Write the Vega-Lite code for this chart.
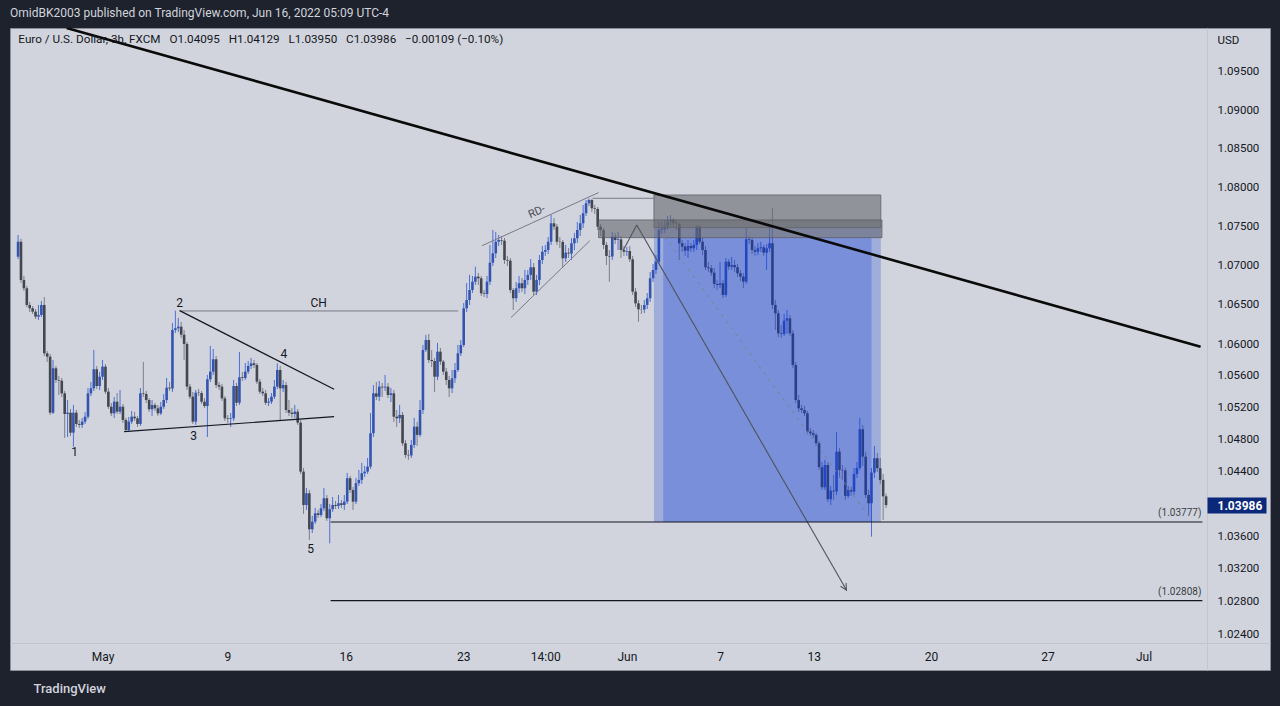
{
"$schema":"https://vega.github.io/schema/vega-lite/v6.json",
"width":1260,"height":642,
"autosize":{"type":"none"},
"padding":{"left":10,"top":28,"right":10,"bottom":36},
"background":"#1e222d",
"config":{"view":{"fill":"#d1d4dc","stroke":"#8b8e96","strokeWidth":1},"font":"Roboto"},
"title":{"text":"OmidBK2003 published on TradingView.com, Jun 16, 2022 05:09 UTC-4","subtitle":"\u200b\u2002\u2009Euro / U.S. Dollar, 3h, FXCM \u2002O1.04095 \u2002H1.04129 \u2002L1.03950 \u2002C1.03986 \u2002−0.00109 (−0.10%)","anchor":"start","frame":"group","offset":-19,"font":"Roboto","fontSize":12,"fontWeight":"normal","color":"#d1d4dc","subtitleFont":"Roboto","subtitleFontSize":11.7,"subtitleColor":"#131722","subtitlePadding":14},
"datasets":{
"bars":[
{"i":0,"o":1.07112,"h":1.07389,"l":1.07082,"c":1.07303},
{"i":1,"o":1.07303,"h":1.07338,"l":1.06777,"c":1.06815},
{"i":2,"o":1.06815,"h":1.06866,"l":1.06675,"c":1.06709},
{"i":3,"o":1.06709,"h":1.06739,"l":1.06471,"c":1.06497},
{"i":4,"o":1.06497,"h":1.06535,"l":1.06408,"c":1.06455},
{"i":5,"o":1.06455,"h":1.06484,"l":1.06383,"c":1.06412},
{"i":6,"o":1.06412,"h":1.06446,"l":1.06319,"c":1.06349},
{"i":7,"o":1.06349,"h":1.06497,"l":1.06307,"c":1.0637},
{"i":8,"o":1.0637,"h":1.06547,"l":1.06345,"c":1.06497},
{"i":9,"o":1.06497,"h":1.06598,"l":1.05851,"c":1.05885},
{"i":10,"o":1.05885,"h":1.05914,"l":1.05776,"c":1.05843},
{"i":11,"o":1.05843,"h":1.05877,"l":1.05109,"c":1.05138},
{"i":12,"o":1.05138,"h":1.05801,"l":1.05122,"c":1.05696},
{"i":13,"o":1.05696,"h":1.05725,"l":1.05511,"c":1.05549},
{"i":14,"o":1.05549,"h":1.056,"l":1.0536,"c":1.0554},
{"i":15,"o":1.0554,"h":1.05574,"l":1.05335,"c":1.05381},
{"i":16,"o":1.05381,"h":1.05411,"l":1.04822,"c":1.05122},
{"i":17,"o":1.05122,"h":1.05297,"l":1.04834,"c":1.05138},
{"i":18,"o":1.05138,"h":1.05185,"l":1.04847,"c":1.04888},
{"i":19,"o":1.04888,"h":1.05235,"l":1.04713,"c":1.05138},
{"i":20,"o":1.05138,"h":1.05172,"l":1.0496,"c":1.04997},
{"i":21,"o":1.04997,"h":1.05047,"l":1.04947,"c":1.04985},
{"i":22,"o":1.04985,"h":1.05072,"l":1.04947,"c":1.05026},
{"i":23,"o":1.05026,"h":1.05147,"l":1.04997,"c":1.05088},
{"i":24,"o":1.05088,"h":1.05448,"l":1.0506,"c":1.05381},
{"i":25,"o":1.05381,"h":1.05524,"l":1.05347,"c":1.05444},
{"i":26,"o":1.05444,"h":1.05927,"l":1.05411,"c":1.05684},
{"i":27,"o":1.05684,"h":1.05725,"l":1.05436,"c":1.05473},
{"i":28,"o":1.05473,"h":1.0565,"l":1.05423,"c":1.0559},
{"i":29,"o":1.0559,"h":1.05801,"l":1.05549,"c":1.05717},
{"i":30,"o":1.05717,"h":1.0575,"l":1.05373,"c":1.05402},
{"i":31,"o":1.05402,"h":1.05448,"l":1.05185,"c":1.05213},
{"i":32,"o":1.05213,"h":1.0526,"l":1.05097,"c":1.0513},
{"i":33,"o":1.0513,"h":1.05335,"l":1.05072,"c":1.05276},
{"i":34,"o":1.05276,"h":1.05385,"l":1.05122,"c":1.05151},
{"i":35,"o":1.05151,"h":1.05423,"l":1.05122,"c":1.05213},
{"i":36,"o":1.05213,"h":1.05247,"l":1.0501,"c":1.05047},
{"i":37,"o":1.05047,"h":1.05072,"l":1.04897,"c":1.04922},
{"i":38,"o":1.04922,"h":1.05085,"l":1.04897,"c":1.05026},
{"i":39,"o":1.05026,"h":1.0516,"l":1.04997,"c":1.05088},
{"i":40,"o":1.05088,"h":1.05147,"l":1.05035,"c":1.05068},
{"i":41,"o":1.05068,"h":1.05097,"l":1.0496,"c":1.04997},
{"i":42,"o":1.04997,"h":1.05448,"l":1.04972,"c":1.05381},
{"i":43,"o":1.05381,"h":1.05776,"l":1.05335,"c":1.05373},
{"i":44,"o":1.05373,"h":1.05411,"l":1.0526,"c":1.05297},
{"i":45,"o":1.05297,"h":1.05322,"l":1.05147,"c":1.05181},
{"i":46,"o":1.05181,"h":1.05297,"l":1.05097,"c":1.05235},
{"i":47,"o":1.05235,"h":1.0526,"l":1.0516,"c":1.05193},
{"i":48,"o":1.05193,"h":1.05235,"l":1.05097,"c":1.0513},
{"i":49,"o":1.0513,"h":1.05272,"l":1.05109,"c":1.05213},
{"i":50,"o":1.05213,"h":1.05373,"l":1.05185,"c":1.05297},
{"i":51,"o":1.05297,"h":1.05574,"l":1.0526,"c":1.05452},
{"i":52,"o":1.05452,"h":1.05524,"l":1.05411,"c":1.05442},
{"i":53,"o":1.05442,"h":1.06269,"l":1.05398,"c":1.0618},
{"i":54,"o":1.0618,"h":1.06425,"l":1.06142,"c":1.06202},
{"i":55,"o":1.06202,"h":1.06332,"l":1.06155,"c":1.06222},
{"i":56,"o":1.06222,"h":1.06281,"l":1.06079,"c":1.0612},
{"i":57,"o":1.0612,"h":1.0618,"l":1.05801,"c":1.06003},
{"i":58,"o":1.06003,"h":1.06028,"l":1.05423,"c":1.05465},
{"i":59,"o":1.05465,"h":1.05499,"l":1.0531,"c":1.05339},
{"i":60,"o":1.05339,"h":1.05398,"l":1.04997,"c":1.05026},
{"i":61,"o":1.05026,"h":1.05423,"l":1.04985,"c":1.05389},
{"i":62,"o":1.05389,"h":1.05436,"l":1.05347,"c":1.05385},
{"i":63,"o":1.05385,"h":1.05411,"l":1.05247,"c":1.05276},
{"i":64,"o":1.05276,"h":1.05322,"l":1.05197,"c":1.05222},
{"i":65,"o":1.05222,"h":1.05612,"l":1.04834,"c":1.05558},
{"i":66,"o":1.05558,"h":1.05978,"l":1.05524,"c":1.05654},
{"i":67,"o":1.05654,"h":1.0594,"l":1.05612,"c":1.0581},
{"i":68,"o":1.0581,"h":1.05851,"l":1.05448,"c":1.05486},
{"i":69,"o":1.05486,"h":1.05524,"l":1.05423,"c":1.05465},
{"i":70,"o":1.05465,"h":1.05499,"l":1.05285,"c":1.05318},
{"i":71,"o":1.05318,"h":1.05347,"l":1.05035,"c":1.05068},
{"i":72,"o":1.05068,"h":1.05109,"l":1.0501,"c":1.0506},
{"i":73,"o":1.0506,"h":1.05135,"l":1.0496,"c":1.05068},
{"i":74,"o":1.05068,"h":1.05549,"l":1.05035,"c":1.05473},
{"i":75,"o":1.05473,"h":1.05511,"l":1.05222,"c":1.05263},
{"i":76,"o":1.05263,"h":1.05902,"l":1.05235,"c":1.05583},
{"i":77,"o":1.05583,"h":1.0565,"l":1.05536,"c":1.05574},
{"i":78,"o":1.05574,"h":1.05763,"l":1.05549,"c":1.05654},
{"i":79,"o":1.05654,"h":1.05788,"l":1.05625,"c":1.05725},
{"i":80,"o":1.05725,"h":1.05826,"l":1.05688,"c":1.05759},
{"i":81,"o":1.05759,"h":1.05801,"l":1.057,"c":1.05738},
{"i":82,"o":1.05738,"h":1.05763,"l":1.05499,"c":1.05528},
{"i":83,"o":1.05528,"h":1.05562,"l":1.05373,"c":1.05402},
{"i":84,"o":1.05402,"h":1.05448,"l":1.05347,"c":1.05381},
{"i":85,"o":1.05381,"h":1.05423,"l":1.05235,"c":1.05263},
{"i":86,"o":1.05263,"h":1.05322,"l":1.05222,"c":1.05276},
{"i":87,"o":1.05276,"h":1.05385,"l":1.05247,"c":1.05339},
{"i":88,"o":1.05339,"h":1.05549,"l":1.0531,"c":1.05465},
{"i":89,"o":1.05465,"h":1.05759,"l":1.05436,"c":1.05675},
{"i":90,"o":1.05675,"h":1.05725,"l":1.05035,"c":1.05444},
{"i":91,"o":1.05444,"h":1.05549,"l":1.05398,"c":1.05486},
{"i":92,"o":1.05486,"h":1.05524,"l":1.05135,"c":1.05172},
{"i":93,"o":1.05172,"h":1.05297,"l":1.05097,"c":1.05138},
{"i":94,"o":1.05138,"h":1.05197,"l":1.05072,"c":1.05122},
{"i":95,"o":1.05122,"h":1.05235,"l":1.05072,"c":1.05151},
{"i":96,"o":1.05151,"h":1.05185,"l":1.04985,"c":1.05013},
{"i":97,"o":1.05013,"h":1.05047,"l":1.04373,"c":1.04402},
{"i":98,"o":1.04402,"h":1.04448,"l":1.03877,"c":1.03988},
{"i":99,"o":1.03988,"h":1.04199,"l":1.03926,"c":1.04133},
{"i":100,"o":1.04133,"h":1.04174,"l":1.03555,"c":1.03687},
{"i":101,"o":1.03687,"h":1.03852,"l":1.03641,"c":1.03781},
{"i":102,"o":1.03781,"h":1.03951,"l":1.03753,"c":1.03885},
{"i":103,"o":1.03885,"h":1.03926,"l":1.03827,"c":1.03864},
{"i":104,"o":1.03864,"h":1.04,"l":1.0384,"c":1.03947},
{"i":105,"o":1.03947,"h":1.04199,"l":1.03914,"c":1.04071},
{"i":106,"o":1.04071,"h":1.04112,"l":1.0379,"c":1.03823},
{"i":107,"o":1.03823,"h":1.04,"l":1.03514,"c":1.03935},
{"i":108,"o":1.03935,"h":1.04087,"l":1.03901,"c":1.03988},
{"i":109,"o":1.03988,"h":1.04038,"l":1.03939,"c":1.03976},
{"i":110,"o":1.03976,"h":1.04112,"l":1.03939,"c":1.04009},
{"i":111,"o":1.04009,"h":1.0405,"l":1.03951,"c":1.03988},
{"i":112,"o":1.03988,"h":1.04112,"l":1.03926,"c":1.04029},
{"i":113,"o":1.04029,"h":1.04386,"l":1.04,"c":1.0432},
{"i":114,"o":1.0432,"h":1.04349,"l":1.04137,"c":1.04174},
{"i":115,"o":1.04174,"h":1.04212,"l":1.03926,"c":1.04029},
{"i":116,"o":1.04029,"h":1.04324,"l":1.04,"c":1.04258},
{"i":117,"o":1.04258,"h":1.04423,"l":1.04224,"c":1.04299},
{"i":118,"o":1.04299,"h":1.0451,"l":1.04249,"c":1.04382},
{"i":119,"o":1.04382,"h":1.04473,"l":1.04336,"c":1.04402},
{"i":120,"o":1.04402,"h":1.04572,"l":1.04373,"c":1.04464},
{"i":121,"o":1.04464,"h":1.05135,"l":1.04436,"c":1.04881},
{"i":122,"o":1.04881,"h":1.05486,"l":1.04834,"c":1.05381},
{"i":123,"o":1.05381,"h":1.05524,"l":1.05297,"c":1.05339},
{"i":124,"o":1.05339,"h":1.05536,"l":1.05285,"c":1.05465},
{"i":125,"o":1.05465,"h":1.05511,"l":1.05335,"c":1.05455},
{"i":126,"o":1.05455,"h":1.05612,"l":1.05411,"c":1.05465},
{"i":127,"o":1.05465,"h":1.05511,"l":1.05322,"c":1.0536},
{"i":128,"o":1.0536,"h":1.05448,"l":1.05272,"c":1.05381},
{"i":129,"o":1.05381,"h":1.05423,"l":1.05022,"c":1.05088},
{"i":130,"o":1.05088,"h":1.05172,"l":1.0496,"c":1.05068},
{"i":131,"o":1.05068,"h":1.05235,"l":1.0501,"c":1.0511},
{"i":132,"o":1.0511,"h":1.05147,"l":1.04722,"c":1.04756},
{"i":133,"o":1.04756,"h":1.04797,"l":1.04572,"c":1.0461},
{"i":134,"o":1.0461,"h":1.04672,"l":1.04548,"c":1.04604},
{"i":135,"o":1.04604,"h":1.04797,"l":1.04572,"c":1.04735},
{"i":136,"o":1.04735,"h":1.05072,"l":1.04697,"c":1.04963},
{"i":137,"o":1.04963,"h":1.05022,"l":1.04722,"c":1.0486},
{"i":138,"o":1.0486,"h":1.05297,"l":1.04834,"c":1.05172},
{"i":139,"o":1.05172,"h":1.05991,"l":1.05122,"c":1.05927},
{"i":140,"o":1.05927,"h":1.06117,"l":1.05902,"c":1.06053},
{"i":141,"o":1.06053,"h":1.06129,"l":1.05763,"c":1.05801},
{"i":142,"o":1.05801,"h":1.05927,"l":1.05713,"c":1.05788},
{"i":143,"o":1.05788,"h":1.05826,"l":1.05398,"c":1.0559},
{"i":144,"o":1.0559,"h":1.06016,"l":1.05549,"c":1.05906},
{"i":145,"o":1.05906,"h":1.05953,"l":1.05738,"c":1.0578},
{"i":146,"o":1.0578,"h":1.05801,"l":1.05612,"c":1.05654},
{"i":147,"o":1.05654,"h":1.057,"l":1.05486,"c":1.05549},
{"i":148,"o":1.05549,"h":1.056,"l":1.05335,"c":1.05444},
{"i":149,"o":1.05444,"h":1.05675,"l":1.05385,"c":1.0557},
{"i":150,"o":1.0557,"h":1.05763,"l":1.05511,"c":1.05675},
{"i":151,"o":1.05675,"h":1.05991,"l":1.0565,"c":1.05885},
{"i":152,"o":1.05885,"h":1.06053,"l":1.05851,"c":1.0599},
{"i":153,"o":1.0599,"h":1.06522,"l":1.05965,"c":1.06455},
{"i":154,"o":1.06455,"h":1.06777,"l":1.06408,"c":1.0656},
{"i":155,"o":1.0656,"h":1.0688,"l":1.06497,"c":1.06687},
{"i":156,"o":1.06687,"h":1.06866,"l":1.06649,"c":1.06793},
{"i":157,"o":1.06793,"h":1.06984,"l":1.06751,"c":1.06857},
{"i":158,"o":1.06857,"h":1.06904,"l":1.06751,"c":1.06836},
{"i":159,"o":1.06836,"h":1.06866,"l":1.06611,"c":1.06645},
{"i":160,"o":1.06645,"h":1.06687,"l":1.06598,"c":1.06636},
{"i":161,"o":1.06636,"h":1.06866,"l":1.06585,"c":1.06793},
{"i":162,"o":1.06793,"h":1.07262,"l":1.06751,"c":1.07035},
{"i":163,"o":1.07035,"h":1.07453,"l":1.06993,"c":1.07155},
{"i":164,"o":1.07155,"h":1.07428,"l":1.07095,"c":1.07303},
{"i":165,"o":1.07303,"h":1.07389,"l":1.07248,"c":1.07325},
{"i":166,"o":1.07325,"h":1.07376,"l":1.07261,"c":1.07316},
{"i":167,"o":1.07316,"h":1.0735,"l":1.07019,"c":1.0707},
{"i":168,"o":1.0707,"h":1.07121,"l":1.06993,"c":1.07061},
{"i":169,"o":1.07061,"h":1.07095,"l":1.06649,"c":1.06687},
{"i":170,"o":1.06687,"h":1.06713,"l":1.06433,"c":1.06582},
{"i":171,"o":1.06582,"h":1.06789,"l":1.06535,"c":1.06709},
{"i":172,"o":1.06709,"h":1.06866,"l":1.06649,"c":1.06773},
{"i":173,"o":1.06773,"h":1.0684,"l":1.06662,"c":1.06709},
{"i":174,"o":1.06709,"h":1.06942,"l":1.06636,"c":1.06815},
{"i":175,"o":1.06815,"h":1.06942,"l":1.06751,"c":1.06879},
{"i":176,"o":1.06879,"h":1.07082,"l":1.06815,"c":1.06977},
{"i":177,"o":1.06977,"h":1.07031,"l":1.06624,"c":1.06666},
{"i":178,"o":1.06666,"h":1.06879,"l":1.06624,"c":1.06815},
{"i":179,"o":1.06815,"h":1.07133,"l":1.06751,"c":1.0707},
{"i":180,"o":1.0707,"h":1.07248,"l":1.07019,"c":1.07175},
{"i":181,"o":1.07175,"h":1.07262,"l":1.07121,"c":1.07197},
{"i":182,"o":1.07197,"h":1.07363,"l":1.07146,"c":1.07303},
{"i":183,"o":1.07303,"h":1.07646,"l":1.07262,"c":1.07539},
{"i":184,"o":1.07539,"h":1.07607,"l":1.07453,"c":1.07496},
{"i":185,"o":1.07496,"h":1.0753,"l":1.07262,"c":1.07303},
{"i":186,"o":1.07303,"h":1.07363,"l":1.07223,"c":1.073},
{"i":187,"o":1.073,"h":1.07325,"l":1.06968,"c":1.07091},
{"i":188,"o":1.07091,"h":1.07262,"l":1.07044,"c":1.07163},
{"i":189,"o":1.07163,"h":1.07223,"l":1.07095,"c":1.07152},
{"i":190,"o":1.07152,"h":1.0735,"l":1.0707,"c":1.07283},
{"i":191,"o":1.07283,"h":1.07415,"l":1.07197,"c":1.07347},
{"i":192,"o":1.07347,"h":1.07556,"l":1.07287,"c":1.07453},
{"i":193,"o":1.07453,"h":1.07646,"l":1.07376,"c":1.07539},
{"i":194,"o":1.07539,"h":1.07774,"l":1.07479,"c":1.07668},
{"i":195,"o":1.07668,"h":1.07838,"l":1.07633,"c":1.07796},
{"i":196,"o":1.07796,"h":1.07857,"l":1.07761,"c":1.07838},
{"i":197,"o":1.07838,"h":1.07851,"l":1.07684,"c":1.07732},
{"i":198,"o":1.07732,"h":1.07774,"l":1.07658,"c":1.07723},
{"i":199,"o":1.07723,"h":1.07748,"l":1.07453,"c":1.07496},
{"i":200,"o":1.07496,"h":1.0753,"l":1.07376,"c":1.07453},
{"i":201,"o":1.07453,"h":1.07479,"l":1.0721,"c":1.07262},
{"i":202,"o":1.07262,"h":1.073,"l":1.07006,"c":1.07121},
{"i":203,"o":1.07121,"h":1.07197,"l":1.06793,"c":1.07114},
{"i":204,"o":1.07114,"h":1.07428,"l":1.0707,"c":1.07368},
{"i":205,"o":1.07368,"h":1.07415,"l":1.07274,"c":1.07325},
{"i":206,"o":1.07325,"h":1.07428,"l":1.07197,"c":1.07334},
{"i":207,"o":1.07334,"h":1.07376,"l":1.07095,"c":1.07197},
{"i":208,"o":1.07197,"h":1.07248,"l":1.07121,"c":1.07175},
{"i":209,"o":1.07175,"h":1.07236,"l":1.07121,"c":1.07184},
{"i":210,"o":1.07184,"h":1.07248,"l":1.07044,"c":1.07079},
{"i":211,"o":1.07079,"h":1.07121,"l":1.06624,"c":1.06666},
{"i":212,"o":1.06666,"h":1.06713,"l":1.06471,"c":1.06518},
{"i":213,"o":1.06518,"h":1.0656,"l":1.06285,"c":1.06442},
{"i":214,"o":1.06442,"h":1.06497,"l":1.06383,"c":1.0644},
{"i":215,"o":1.0644,"h":1.0656,"l":1.06395,"c":1.06497},
{"i":216,"o":1.06497,"h":1.06649,"l":1.06446,"c":1.06582},
{"i":217,"o":1.06582,"h":1.06917,"l":1.06535,"c":1.06836},
{"i":218,"o":1.06836,"h":1.07019,"l":1.06789,"c":1.06942},
{"i":219,"o":1.06942,"h":1.07133,"l":1.06891,"c":1.07048},
{"i":220,"o":1.07048,"h":1.07556,"l":1.07019,"c":1.07453},
{"i":221,"o":1.07453,"h":1.07556,"l":1.07402,"c":1.07466},
{"i":222,"o":1.07466,"h":1.07582,"l":1.07415,"c":1.07496},
{"i":223,"o":1.07496,"h":1.07633,"l":1.07453,"c":1.0756},
{"i":224,"o":1.0756,"h":1.07646,"l":1.07505,"c":1.07582},
{"i":225,"o":1.07582,"h":1.07607,"l":1.07492,"c":1.07539},
{"i":226,"o":1.07539,"h":1.07582,"l":1.07453,"c":1.0753},
{"i":227,"o":1.0753,"h":1.07556,"l":1.0707,"c":1.07283},
{"i":228,"o":1.07283,"h":1.07325,"l":1.07172,"c":1.0724},
{"i":229,"o":1.0724,"h":1.07287,"l":1.07121,"c":1.07188},
{"i":230,"o":1.07188,"h":1.07325,"l":1.07095,"c":1.07249},
{"i":231,"o":1.07249,"h":1.07287,"l":1.07172,"c":1.07219},
{"i":232,"o":1.07219,"h":1.07325,"l":1.07172,"c":1.07262},
{"i":233,"o":1.07262,"h":1.07518,"l":1.07197,"c":1.07496},
{"i":234,"o":1.07496,"h":1.07518,"l":1.07274,"c":1.07303},
{"i":235,"o":1.07303,"h":1.0735,"l":1.07133,"c":1.07197},
{"i":236,"o":1.07197,"h":1.07248,"l":1.06942,"c":1.06977},
{"i":237,"o":1.06977,"h":1.07044,"l":1.06917,"c":1.06964},
{"i":238,"o":1.06964,"h":1.07006,"l":1.06866,"c":1.06908},
{"i":239,"o":1.06908,"h":1.06968,"l":1.06713,"c":1.06764},
{"i":240,"o":1.06764,"h":1.06815,"l":1.06687,"c":1.06751},
{"i":241,"o":1.06751,"h":1.07044,"l":1.06713,"c":1.06773},
{"i":242,"o":1.06773,"h":1.06815,"l":1.06585,"c":1.06624},
{"i":243,"o":1.06624,"h":1.07095,"l":1.06598,"c":1.07048},
{"i":244,"o":1.07048,"h":1.07082,"l":1.06942,"c":1.06984},
{"i":245,"o":1.06984,"h":1.07108,"l":1.06942,"c":1.07006},
{"i":246,"o":1.07006,"h":1.0707,"l":1.06917,"c":1.06977},
{"i":247,"o":1.06977,"h":1.07019,"l":1.06853,"c":1.069},
{"i":248,"o":1.069,"h":1.06942,"l":1.06802,"c":1.06857},
{"i":249,"o":1.06857,"h":1.06904,"l":1.06713,"c":1.06793},
{"i":250,"o":1.06793,"h":1.07479,"l":1.06764,"c":1.07334},
{"i":251,"o":1.07334,"h":1.07376,"l":1.07274,"c":1.07325},
{"i":252,"o":1.07325,"h":1.0735,"l":1.07146,"c":1.07197},
{"i":253,"o":1.07197,"h":1.07248,"l":1.07121,"c":1.07175},
{"i":254,"o":1.07175,"h":1.07287,"l":1.07133,"c":1.07219},
{"i":255,"o":1.07219,"h":1.073,"l":1.07172,"c":1.07232},
{"i":256,"o":1.07232,"h":1.07262,"l":1.07121,"c":1.07163},
{"i":257,"o":1.07163,"h":1.07274,"l":1.06942,"c":1.07219},
{"i":258,"o":1.07219,"h":1.07518,"l":1.07172,"c":1.07283},
{"i":259,"o":1.07283,"h":1.07732,"l":1.06446,"c":1.06497},
{"i":260,"o":1.06497,"h":1.0656,"l":1.0618,"c":1.06392},
{"i":261,"o":1.06392,"h":1.06433,"l":1.06091,"c":1.06138},
{"i":262,"o":1.06138,"h":1.06243,"l":1.06079,"c":1.0613},
{"i":263,"o":1.0613,"h":1.06383,"l":1.06104,"c":1.06298},
{"i":264,"o":1.06298,"h":1.06433,"l":1.0613,"c":1.06328},
{"i":265,"o":1.06328,"h":1.0637,"l":1.06104,"c":1.06138},
{"i":266,"o":1.06138,"h":1.0618,"l":1.057,"c":1.05738},
{"i":267,"o":1.05738,"h":1.05776,"l":1.0526,"c":1.05297},
{"i":268,"o":1.05297,"h":1.0536,"l":1.05147,"c":1.05193},
{"i":269,"o":1.05193,"h":1.05235,"l":1.05135,"c":1.05172},
{"i":270,"o":1.05172,"h":1.05222,"l":1.05097,"c":1.0513},
{"i":271,"o":1.0513,"h":1.0516,"l":1.04872,"c":1.04901},
{"i":272,"o":1.04901,"h":1.04947,"l":1.04847,"c":1.04881},
{"i":273,"o":1.04881,"h":1.04922,"l":1.04822,"c":1.0486},
{"i":274,"o":1.0486,"h":1.04885,"l":1.04722,"c":1.04756},
{"i":275,"o":1.04756,"h":1.04785,"l":1.04423,"c":1.04457},
{"i":276,"o":1.04457,"h":1.04523,"l":1.04174,"c":1.04208},
{"i":277,"o":1.04208,"h":1.04548,"l":1.04174,"c":1.04485},
{"i":278,"o":1.04485,"h":1.04523,"l":1.04025,"c":1.04059},
{"i":279,"o":1.04059,"h":1.04224,"l":1.03988,"c":1.04166},
{"i":280,"o":1.04166,"h":1.04361,"l":1.0405,"c":1.04156},
{"i":281,"o":1.04156,"h":1.04897,"l":1.04112,"c":1.04651},
{"i":282,"o":1.04651,"h":1.04697,"l":1.04324,"c":1.04423},
{"i":283,"o":1.04423,"h":1.04485,"l":1.04299,"c":1.04417},
{"i":284,"o":1.04417,"h":1.04448,"l":1.0405,"c":1.041},
{"i":285,"o":1.041,"h":1.04224,"l":1.04075,"c":1.04174},
{"i":286,"o":1.04174,"h":1.04212,"l":1.041,"c":1.04153},
{"i":287,"o":1.04153,"h":1.04448,"l":1.04112,"c":1.04373},
{"i":288,"o":1.04373,"h":1.04523,"l":1.04324,"c":1.04448},
{"i":289,"o":1.04448,"h":1.05072,"l":1.04423,"c":1.04931},
{"i":290,"o":1.04931,"h":1.04985,"l":1.04473,"c":1.04589},
{"i":291,"o":1.04589,"h":1.04647,"l":1.04075,"c":1.04112},
{"i":292,"o":1.04112,"h":1.04174,"l":1.03864,"c":1.04009},
{"i":293,"o":1.04009,"h":1.04448,"l":1.03596,"c":1.0439},
{"i":294,"o":1.0439,"h":1.04722,"l":1.04324,"c":1.04569},
{"i":295,"o":1.04569,"h":1.04635,"l":1.04398,"c":1.04444},
{"i":296,"o":1.04444,"h":1.04572,"l":1.04249,"c":1.04299},
{"i":297,"o":1.04299,"h":1.04373,"l":1.03802,"c":1.04095},
{"i":298,"o":1.04095,"h":1.04129,"l":1.0395,"c":1.03986}
],
"grayBoxes":[{"i":218.3,"i2":296.2,"p":1.07903,"p2":1.07483},{"i":199.3,"i2":296.6,"p":1.07582,"p2":1.07355}],
"blueBoxes":[{"i":218.3,"i2":296.2,"p":1.07483,"p2":1.03777},{"i":221.5,"i2":293.0,"p":1.07355,"p2":1.03777}],
"trend":[{"i":16.66,"p":1.10072,"i2":405.99,"p2":1.05969}],
"blackLines":[{"i":55.48,"p":1.06425,"i2":108.5,"p2":1.05432},{"i":36.4,"p":1.04901,"i2":108.5,"p2":1.05088},{"i":107.3,"p":1.03777,"i2":406.6,"p2":1.03777},{"i":107.3,"p":1.02808,"i2":406.6,"p2":1.02808}],
"grayLines":[{"i":55.48,"p":1.06421,"i2":151.1,"p2":1.06421},{"i":159.3,"p":1.07252,"i2":199.3,"p2":1.07933},{"i":169.2,"p":1.06336,"i2":196.3,"p2":1.07316},{"i":197.2,"p":1.0786,"i2":218.6,"p2":1.0786}],
"dashed":[{"i":222.0,"p":1.07368,"i2":293.0,"p2":1.03802}],
"arrow":[{"i":207.8,"p":1.07197,"i2":212.4,"p2":1.07518},{"i":212.4,"p":1.07518,"i2":284.4,"p2":1.02938}],
"arrowHead":[{"i":284.4,"p":1.02938}],
"waveLabels":[{"i":19.38,"p":1.04647,"t":"1"},{"i":55.48,"p":1.06522,"t":"2"},{"i":60.25,"p":1.04847,"t":"3"},{"i":91.25,"p":1.05877,"t":"4"},{"i":100.44,"p":1.03443,"t":"5"},{"i":103.17,"p":1.06522,"t":"CH"}],
"rdLabel":[{"i":178.1,"p":1.07684,"t":"RD-"}],
"priceTags":[{"i":406.6,"p":1.03777,"t":"(1.03777)"},{"i":406.6,"p":1.02808,"t":"(1.02808)"}]
},
"resolve":{"axis":{"x":"independent","y":"independent"}},
"layer":[
{"data":{"name":"bars"},"mark":{"type":"rule","strokeWidth":1},
 "encoding":{
  "x":{"field":"i","type":"quantitative","scale":{"domain":[-1.056,428.1],"nice":false,"zero":false},
   "axis":{"orient":"bottom","offset":-27,"values":[29,71.9,112.5,152.8,181,209,241,273.2,313.4,353.4,386.4],
    "labelExpr":"datum.value < 50 ? 'May' : datum.value < 100 ? '9' : datum.value < 130 ? '16' : datum.value < 170 ? '23' : datum.value < 190 ? '14:00' : datum.value < 220 ? 'Jun' : datum.value < 260 ? '7' : datum.value < 290 ? '13' : datum.value < 330 ? '20' : datum.value < 370 ? '27' : 'Jul'",
    "ticks":false,"grid":false,"domain":true,"domainColor":"#c3c6ce","labelColor":"#131722","labelFont":"Roboto","labelFontSize":12,"labelPadding":8,"labelOverlap":false,"labelFlush":false,
    "title":"TradingView","titleX":23,"titleY":45,"titleAlign":"left","titleAnchor":"start","titleBaseline":"middle","titleColor":"#d1d4dc","titleFont":"Roboto","titleFontSize":13,"titleFontWeight":500}},
  "y":{"field":"l","type":"quantitative","scale":{"type":"log","domain":[1.01962,1.10072],"nice":false},
   "axis":{"orient":"right","offset":-63,"values":[1.024,1.028,1.032,1.036,1.044,1.048,1.052,1.056,1.06,1.065,1.07,1.075,1.08,1.085,1.09,1.095],"format":".5f",
    "labelAlign":"left","labelPadding":10,"ticks":false,"grid":false,"domain":true,"domainColor":"#c3c6ce","labelColor":"#131722","labelFont":"Roboto","labelFontSize":11.5,"labelOverlap":false,"labelFlush":false,
    "title":"USD","titleAngle":0,"titleAlign":"left","titleBaseline":"middle","titleX":10,"titleY":12,"titleColor":"#131722","titleFont":"Roboto","titleFontSize":11.5,"titleFontWeight":"normal"}},
  "y2":{"field":"h"},
  "color":{"condition":{"test":"datum.c >= datum.o","value":"#4d6fd6"},"value":"#7b7e88"}}},
{"data":{"name":"bars"},"mark":{"type":"bar","width":2.6},
 "encoding":{
  "x":{"field":"i","type":"quantitative","scale":{"domain":[-1.056,428.1],"nice":false,"zero":false},"axis":null},
  "y":{"field":"o","type":"quantitative","scale":{"type":"log","domain":[1.01962,1.10072],"nice":false},"axis":null},
  "y2":{"field":"c"},
  "color":{"condition":{"test":"datum.c >= datum.o","value":"#3354b0"},"value":"#43464f"}}},
{"data":{"name":"blueBoxes"},"mark":{"type":"rect","color":"#0a39d8","fillOpacity":0.25},
 "encoding":{
  "x":{"field":"i","type":"quantitative","scale":{"domain":[-1.056,428.1],"nice":false,"zero":false},"axis":null},"x2":{"field":"i2"},
  "y":{"field":"p","type":"quantitative","scale":{"type":"log","domain":[1.01962,1.10072],"nice":false},"axis":null},"y2":{"field":"p2"}}},
{"data":{"name":"grayBoxes"},"mark":{"type":"rect","fill":"#65686f","fillOpacity":0.6,"stroke":"#55585f","strokeWidth":1,"strokeOpacity":0.7},
 "encoding":{
  "x":{"field":"i","type":"quantitative","scale":{"domain":[-1.056,428.1],"nice":false,"zero":false},"axis":null},"x2":{"field":"i2"},
  "y":{"field":"p","type":"quantitative","scale":{"type":"log","domain":[1.01962,1.10072],"nice":false},"axis":null},"y2":{"field":"p2"}}},
{"data":{"name":"grayLines"},"mark":{"type":"rule","color":"#787b86","strokeWidth":1},
 "encoding":{
  "x":{"field":"i","type":"quantitative","scale":{"domain":[-1.056,428.1],"nice":false,"zero":false},"axis":null},"x2":{"field":"i2"},
  "y":{"field":"p","type":"quantitative","scale":{"type":"log","domain":[1.01962,1.10072],"nice":false},"axis":null},"y2":{"field":"p2"}}},
{"data":{"name":"dashed"},"mark":{"type":"rule","color":"#7c7f8a","strokeWidth":1,"strokeDash":[3,5]},
 "encoding":{
  "x":{"field":"i","type":"quantitative","scale":{"domain":[-1.056,428.1],"nice":false,"zero":false},"axis":null},"x2":{"field":"i2"},
  "y":{"field":"p","type":"quantitative","scale":{"type":"log","domain":[1.01962,1.10072],"nice":false},"axis":null},"y2":{"field":"p2"}}},
{"data":{"name":"arrow"},"mark":{"type":"rule","color":"#50535e","strokeWidth":1.1},
 "encoding":{
  "x":{"field":"i","type":"quantitative","scale":{"domain":[-1.056,428.1],"nice":false,"zero":false},"axis":null},"x2":{"field":"i2"},
  "y":{"field":"p","type":"quantitative","scale":{"type":"log","domain":[1.01962,1.10072],"nice":false},"axis":null},"y2":{"field":"p2"}}},
{"data":{"name":"arrowHead"},"mark":{"type":"point","shape":"M-0.5,-1L0,0L0.5,-1","filled":false,"stroke":"#50535e","strokeWidth":1.1,"size":160,"angle":-30,"opacity":1},
 "encoding":{
  "x":{"field":"i","type":"quantitative","scale":{"domain":[-1.056,428.1],"nice":false,"zero":false},"axis":null},
  "y":{"field":"p","type":"quantitative","scale":{"type":"log","domain":[1.01962,1.10072],"nice":false},"axis":null}}},
{"data":{"name":"blackLines"},"mark":{"type":"rule","color":"#131722","strokeWidth":1.2},
 "encoding":{
  "x":{"field":"i","type":"quantitative","scale":{"domain":[-1.056,428.1],"nice":false,"zero":false},"axis":null},"x2":{"field":"i2"},
  "y":{"field":"p","type":"quantitative","scale":{"type":"log","domain":[1.01962,1.10072],"nice":false},"axis":null},"y2":{"field":"p2"}}},
{"data":{"name":"trend"},"mark":{"type":"rule","color":"#0a0a0a","strokeWidth":2.6,"clip":true},
 "encoding":{
  "x":{"field":"i","type":"quantitative","scale":{"domain":[-1.056,428.1],"nice":false,"zero":false},"axis":null},"x2":{"field":"i2"},
  "y":{"field":"p","type":"quantitative","scale":{"type":"log","domain":[1.01962,1.10072],"nice":false},"axis":null},"y2":{"field":"p2"}}},
{"data":{"name":"waveLabels"},"mark":{"type":"text","font":"Roboto","fontSize":12,"color":"#131722","align":"center","baseline":"middle"},
 "encoding":{
  "x":{"field":"i","type":"quantitative","scale":{"domain":[-1.056,428.1],"nice":false,"zero":false},"axis":null},
  "y":{"field":"p","type":"quantitative","scale":{"type":"log","domain":[1.01962,1.10072],"nice":false},"axis":null},
  "text":{"field":"t"}}},
{"data":{"name":"rdLabel"},"mark":{"type":"text","font":"Roboto","fontSize":11,"color":"#4a4d57","align":"center","baseline":"middle","angle":-24},
 "encoding":{
  "x":{"field":"i","type":"quantitative","scale":{"domain":[-1.056,428.1],"nice":false,"zero":false},"axis":null},
  "y":{"field":"p","type":"quantitative","scale":{"type":"log","domain":[1.01962,1.10072],"nice":false},"axis":null},
  "text":{"field":"t"}}},
{"data":{"name":"priceTags"},"mark":{"type":"text","font":"Roboto","fontSize":10,"color":"#3b3e48","align":"right","baseline":"bottom","dx":-1,"dy":-4},
 "encoding":{
  "x":{"field":"i","type":"quantitative","scale":{"domain":[-1.056,428.1],"nice":false,"zero":false},"axis":null},
  "y":{"field":"p","type":"quantitative","scale":{"type":"log","domain":[1.01962,1.10072],"nice":false},
   "axis":{"orient":"right","offset":-63,"values":[1.03986],"format":".5f","ticks":true,"tickSize":59,"tickWidth":16,"tickColor":"#0b287a","labelPadding":-49,"labelAlign":"left","labelColor":"#ffffff","labelFont":"Roboto","labelFontSize":12,"labelFontWeight":"bold","domain":false,"grid":false,"title":null,"labelFlush":false,"labelOverlap":false}},
  "text":{"field":"t"}}}
]
}
